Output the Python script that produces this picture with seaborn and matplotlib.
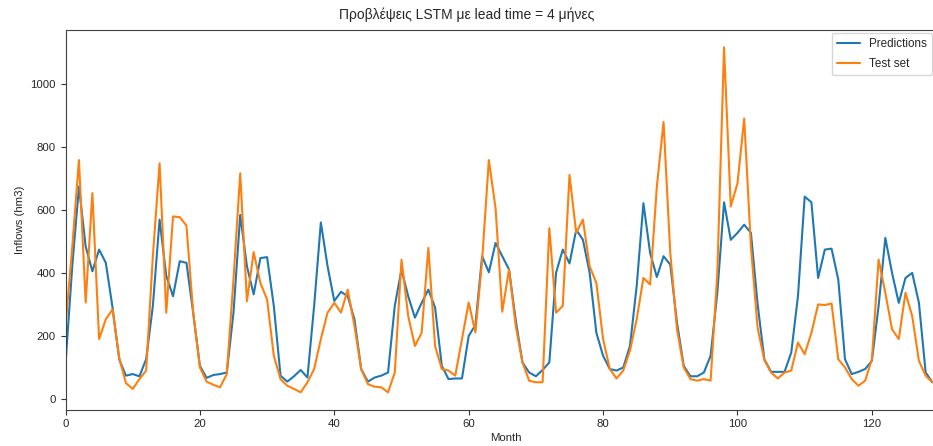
import matplotlib
matplotlib.use("Agg")
import matplotlib.pyplot as plt
import pandas as pd
import seaborn as sns

# ---- data ----
months = list(range(130))
predictions = [
    110, 420, 674, 484, 405, 474, 432, 290, 125, 74,
    79, 72, 126, 295, 569, 390, 326, 437, 432, 274,
    105, 67, 76, 79, 84, 274, 584, 421, 332, 447,
    450, 295, 74, 55, 72, 92, 68, 295, 560, 421,
    311, 340, 326, 253, 95, 55, 68, 74, 84, 295,
    411, 326, 258, 305, 347, 290, 105, 63, 65, 65,
    200, 235, 453, 402, 495, 453, 411, 250, 116, 84,
    72, 92, 116, 400, 474, 430, 537, 505, 400, 210,
    137, 95, 90, 100, 168, 358, 621, 463, 387, 453,
    426, 242, 105, 72, 72, 84, 137, 337, 624, 505,
    527, 553, 527, 300, 126, 86, 86, 86, 147, 326,
    642, 624, 384, 474, 477, 379, 126, 79, 86, 95,
    121, 295, 511, 400, 305, 384, 400, 305, 84, 53,
]
test_set = [
    230, 480, 758, 306, 653, 190, 253, 284, 130, 50,
    32, 63, 90, 453, 748, 274, 579, 577, 550, 274,
    100, 55, 45, 37, 79, 380, 716, 310, 466, 368,
    316, 137, 63, 42, 32, 21, 53, 95, 190, 274,
    305, 274, 347, 232, 95, 47, 39, 37, 21, 84,
    442, 263, 168, 210, 479, 168, 95, 90, 74, 190,
    306, 211, 440, 758, 605, 277, 411, 232, 116, 58,
    53, 53, 542, 274, 295, 711, 527, 569, 421, 368,
    190, 95, 65, 90, 153, 253, 384, 363, 674, 879,
    463, 221, 100, 63, 58, 63, 58, 400, 1116, 611,
    684, 890, 484, 225, 123, 84, 65, 84, 90, 179,
    142, 210, 300, 298, 303, 126, 100, 63, 42, 58,
    126, 442, 337, 221, 190, 337, 263, 121, 74, 53,
]
series_names = ["Predictions", "Test set"]
series_colors = ["#1f77b4", "#ff7f0e"]
x_ticks = [0, 20, 40, 60, 80, 100, 120]
y_ticks = [0, 200, 400, 600, 800, 1000]
title_text = "Προβλέψεις LSTM με lead time = 4 μήνες"
x_label = "Month"
y_label = "Inflows (hm3)"

# ---- style ----
sns.set_theme(style="ticks")
plt.rcParams["font.family"] = ["Liberation Sans", "DejaVu Sans"]

df = pd.DataFrame({
    "Month": months + months,
    "Inflows": predictions + test_set,
    "series": [series_names[0]] * len(months) + [series_names[1]] * len(months),
})

W, H = 933, 446
fig = plt.figure(figsize=(W / 100, H / 100), dpi=100)
fig.patch.set_facecolor("white")
left_px, right_px, top_px, bottom_px = 65.5, 945.8, 30.0, 409.6
ax = fig.add_axes([left_px / W, (H - bottom_px) / H,
                   (right_px - left_px) / W, (bottom_px - top_px) / H])
ax.set_facecolor("white")

sns.lineplot(data=df, x="Month", y="Inflows", hue="series",
             hue_order=series_names, palette=series_colors,
             linewidth=1.5, ax=ax)

ax.set_xlim(0, 131)
ax.set_ylim(-33.75, 1170.75)
ax.set_xticks(x_ticks)
ax.set_yticks(y_ticks)
ax.tick_params(length=3.5, width=0.8, labelsize=8.2, pad=3.5, color="0.2")
for sp in ax.spines.values():
    sp.set_visible(True)
    sp.set_linewidth(0.8)
    sp.set_color("0.25")

fig.suptitle(title_text, fontsize=10, x=0.5, y=1 - 8 / H, va="top")
ax.set_xlabel(x_label, fontsize=8.2, labelpad=3)
ax.set_ylabel(y_label, fontsize=8.2, labelpad=4)

handles, labels = ax.get_legend_handles_labels()
ax.legend(handles, labels, loc="upper right", fontsize=8.4, frameon=True,
          fancybox=True, framealpha=0.8, edgecolor="0.8", title=None,
          labelspacing=0.75, borderaxespad=0,
          bbox_to_anchor=(932 / W, 1 - 33 / H), bbox_transform=fig.transFigure)

fig.savefig("out.png", dpi=100)
